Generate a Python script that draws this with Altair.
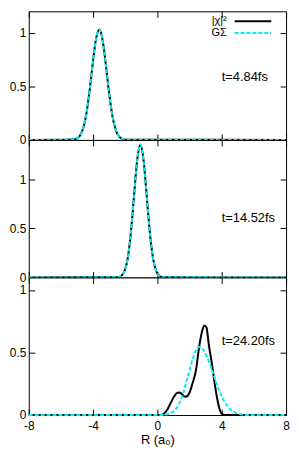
import altair as alt
import pandas as pd

# ---- data ----
# panel 1 : t = 4.84 fs
R1 = [-8, -5.2, -5.0, -4.8, -4.6, -4.4, -4.2, -4.0, -3.8, -3.6, -3.4, -3.2, -3.0, -2.8, -2.6, -2.4, -2.2, -2.0, 8]
CHI1 = [0, 0.004, 0.014, 0.044, 0.117, 0.26, 0.481, 0.743, 0.957, 1.03, 0.923, 0.691, 0.431, 0.225, 0.098, 0.035, 0.011, 0.003, 0]
G1 = [0, 0.004, 0.014, 0.044, 0.117, 0.26, 0.481, 0.743, 0.957, 1.03, 0.923, 0.691, 0.431, 0.225, 0.098, 0.035, 0.011, 0.003, 0]

# panel 2 : t = 14.52 fs
R2 = [-8, -2.46, -2.26, -2.06, -1.86, -1.66, -1.46, -1.26, -1.06, -0.86, -0.66, -0.46, -0.26, -0.06, 0.14, 0.34, 8]
CHI2 = [0, 0.003, 0.015, 0.059, 0.183, 0.438, 0.819, 1.191, 1.35, 1.191, 0.819, 0.438, 0.183, 0.059, 0.015, 0.003, 0]
G2 = [0, 0.003, 0.015, 0.059, 0.183, 0.438, 0.819, 1.191, 1.35, 1.191, 0.819, 0.438, 0.183, 0.059, 0.015, 0.003, 0]

# panel 3 : t = 24.20 fs
R3_CHI = [-8, 0.2, 0.4, 0.6, 0.8, 1.0, 1.2, 1.35, 1.5, 1.72, 1.85, 2.0, 2.2, 2.4, 2.6, 2.8, 2.92, 3.05, 3.2, 3.4, 3.6, 3.8, 4.0, 4.2, 8]
CHI3 = [0, 0, 0.01, 0.04, 0.09, 0.14, 0.175, 0.18, 0.17, 0.147, 0.15, 0.18, 0.26, 0.36, 0.55, 0.68, 0.716, 0.70, 0.56, 0.40, 0.22, 0.08, 0.01, 0, 0]
R3_G = [-8, 0.4, 0.7, 1.0, 1.3, 1.6, 1.9, 2.2, 2.4, 2.6, 2.8, 3.1, 3.4, 3.7, 4.0, 4.3, 4.6, 4.9, 5.2, 5.5, 8]
G3 = [0, 0.001, 0.009, 0.029, 0.078, 0.173, 0.31, 0.454, 0.52, 0.545, 0.531, 0.462, 0.357, 0.245, 0.149, 0.081, 0.039, 0.017, 0.006, 0.001, 0]

SERIES = ["|χ|²", "GΣ"]
TIMES = ["t=4.84fs", "t=14.52fs", "t=24.20fs"]
LABEL_R = [4.0, 4.0, 4.0]
LABEL_V = [0.59, 0.60, 0.59]
X_TICKS = [-8, -4, 0, 4, 8]
Y_TICKS = [0, 0.5, 1]
Y_MAX = [1.2, 1.4, 1.1]
X_TITLE = "R (a₀)"

# ---- layout / style ----
W = 260
HEIGHTS = [130, 139, 139]
FONT = "Liberation Sans"
CYAN = "#00f0f0"
TICK = 6
DASH = [4, 2]


def panel(i, r_chi, chi, r_g, g, show_x, show_legend):
    H = HEIGHTS[i]
    df_chi = pd.DataFrame({"R": r_chi, "v": chi, "series": SERIES[0]})
    df_g = pd.DataFrame({"R": r_g, "v": g, "series": SERIES[1]})
    df_t = pd.DataFrame({"R": [LABEL_R[i]], "v": [LABEL_V[i]], "label": [TIMES[i]]})

    xs = alt.Scale(domain=[-8, 8], nice=False, zero=False)
    ys = alt.Scale(domain=[0, Y_MAX[i]], nice=False, zero=False)

    # axis 1 : labels (left / bottom), no ticks
    ax_x1 = alt.Axis(values=X_TICKS, labels=show_x, ticks=False, tickSize=0, domain=False,
                     grid=False, labelExpr="datum.value + ''", labelFont=FONT, labelFontSize=12,
                     labelColor="black", labelPadding=6, labelFlush=False,
                     title=X_TITLE if show_x else None, titleFont=FONT, titleFontSize=13,
                     titleFontWeight="normal", titleColor="black", titlePadding=2)
    ax_y1 = alt.Axis(values=Y_TICKS, ticks=False, tickSize=0, domain=False, grid=False,
                     labelExpr="datum.value + ''", labelFont=FONT, labelFontSize=12,
                     labelColor="black", labelPadding=3, title=None)
    # axis 2 : inward ticks on bottom / left edges
    ax_x2 = alt.Axis(orient="top", offset=-H, values=X_TICKS, labels=False, tickSize=TICK,
                     tickColor="black", domain=False, grid=False, title=None)
    ax_y2 = alt.Axis(orient="right", offset=-W, values=Y_TICKS, labels=False, tickSize=TICK,
                     tickColor="black", domain=False, grid=False, title=None)
    # axis 3 : inward ticks on top / right edges
    ax_x3 = alt.Axis(orient="bottom", offset=-H, values=X_TICKS, labels=False, tickSize=TICK,
                     tickColor="black", domain=False, grid=False, title=None)
    ax_y3 = alt.Axis(orient="left", offset=-W, values=Y_TICKS, labels=False, tickSize=TICK,
                     tickColor="black", domain=False, grid=False, title=None)

    black = alt.Chart(df_chi).mark_line(strokeWidth=2, interpolate="monotone",
                                        color="black").encode(
        x=alt.X("R:Q", scale=xs, axis=ax_x1),
        y=alt.Y("v:Q", scale=ys, axis=ax_y1),
    )
    cyan = alt.Chart(df_g).mark_line(strokeWidth=2, interpolate="monotone", color=CYAN,
                                     strokeDash=DASH).encode(
        x=alt.X("R:Q", scale=xs, axis=ax_x2),
        y=alt.Y("v:Q", scale=ys, axis=ax_y2),
    )
    text = alt.Chart(df_t).mark_text(align="left", baseline="middle", font=FONT,
                                     fontSize=13, color="black").encode(
        x=alt.X("R:Q", scale=xs, axis=ax_x3),
        y=alt.Y("v:Q", scale=ys, axis=ax_y3),
        text="label:N",
    )
    layers = [black, cyan, text]

    if show_legend:
        # key (guide) in the top-right corner, gnuplot style: label, then sample line
        key_rows = [10, 22]
        key_label_x = 200
        key_line = (208, 245)
        for k, (name, col, dash) in enumerate(zip(SERIES, ["black", CYAN], [[1, 0], DASH])):
            kdf = pd.DataFrame({"series": [name]})
            layers.append(
                alt.Chart(kdf).mark_text(align="right", baseline="middle", font=FONT,
                                         fontSize=11, color="black").encode(
                    x=alt.value(key_label_x), y=alt.value(key_rows[k]), text="series:N")
            )
            layers.append(
                alt.Chart(kdf).mark_rule(strokeWidth=2, color=col, strokeDash=dash).encode(
                    x=alt.value(key_line[0]), x2=alt.value(key_line[1]),
                    y=alt.value(key_rows[k]))
            )

    return alt.layer(*layers).resolve_axis(
        x="independent", y="independent").properties(width=W, height=H)


p1 = panel(0, R1, CHI1, R1, G1, False, True)
p2 = panel(1, R2, CHI2, R2, G2, False, False)
p3 = panel(2, R3_CHI, CHI3, R3_G, G3, True, False)

chart = alt.vconcat(p1, p2, p3, spacing=0, bounds="flush").resolve_scale(
    x="independent", y="independent"
).properties(padding=0, background="white").configure_view(
    stroke="black", strokeWidth=1, fill="white"
)

chart.save("out.html", embed_options={"renderer": "svg", "actions": False})
